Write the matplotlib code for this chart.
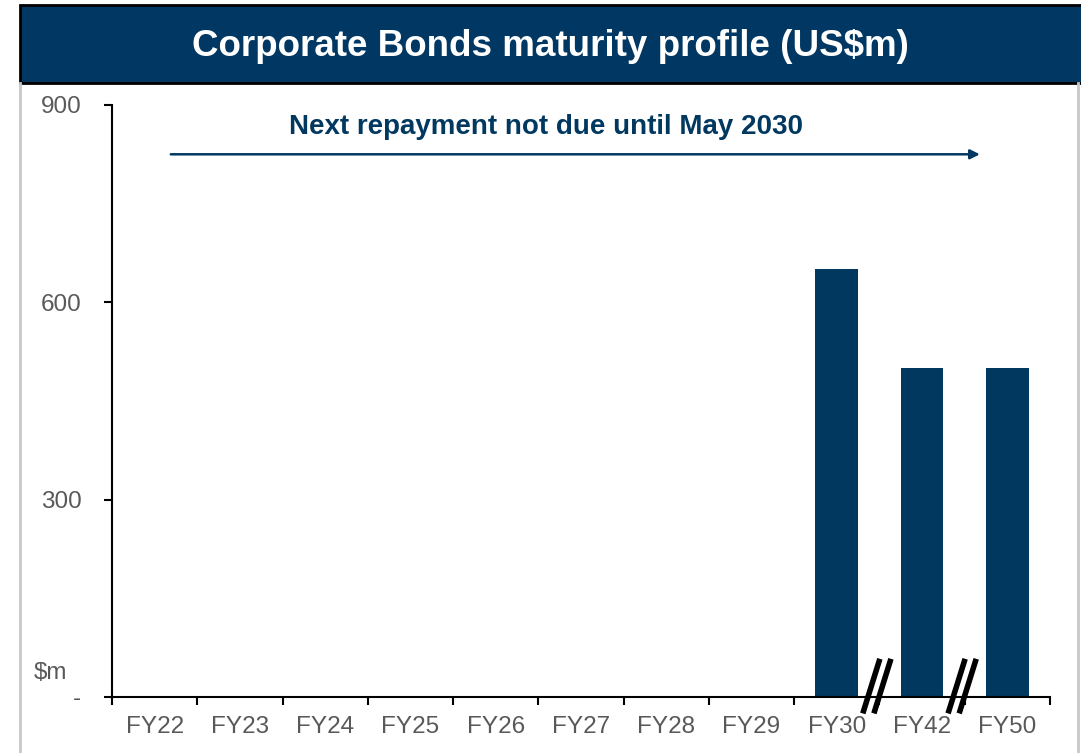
import matplotlib.pyplot as plt
from matplotlib.patches import Rectangle
from matplotlib.lines import Line2D

categories = ['FY22', 'FY23', 'FY24', 'FY25', 'FY26', 'FY27', 'FY28', 'FY29', 'FY30', 'FY42', 'FY50']
values = [0, 0, 0, 0, 0, 0, 0, 0, 650, 500, 500]
yticks = [0, 300, 600, 900]
ytick_labels = ['-', '300', '600', '900']
breaks_after = ['FY30', 'FY42']

navy = '#00385F'
grey = '#595959'
plt.rcParams['font.family'] = ['Liberation Sans', 'DejaVu Sans']

fig = plt.figure(figsize=(10.81, 7.53), dpi=100)
ax = fig.add_axes([0.1036, 0.0744, 0.8677, 0.7862])

x = list(range(len(categories)))
ax.bar(x, values, width=0.5, color=navy, zorder=2)
ax.set_xlim(-0.5, len(categories) - 0.5)
ax.set_ylim(0, 900)

ax.set_yticks(yticks)
ax.set_yticklabels(ytick_labels)
ax.set_xticks(x)
ax.set_xticklabels(categories)
ax.set_xticks([i - 0.5 for i in range(len(categories) + 1)], minor=True)
ax.tick_params(axis='x', which='major', length=0, pad=14, labelsize=17.5, labelcolor=grey)
ax.tick_params(axis='x', which='minor', length=6, width=1.5, direction='out')
ax.tick_params(axis='y', length=6, width=1.5, direction='out', pad=16, labelsize=17.5, labelcolor=grey)
for s in ['top', 'right']:
    ax.spines[s].set_visible(False)
for s in ['left', 'bottom']:
    ax.spines[s].set_linewidth(1.5)

# axis break marks
for name in breaks_after:
    b = categories.index(name) + 0.47
    for dx in (-0.065, 0.065):
        ax.plot([b + dx - 0.1, b + dx + 0.1], [-25, 58], color='black', lw=4,
                clip_on=False, zorder=5, solid_capstyle='butt')

# $m unit label
ax.text(-1.02, 36, '$m', ha='right', va='center', fontsize=17.5, color=grey)

# arrow and note
ax.annotate('', xy=(9.71, 825), xytext=(0.157, 825),
            arrowprops=dict(arrowstyle='-|>', color=navy, lw=1.8, mutation_scale=14))
ax.text(4.59, 866, 'Next repayment not due until May 2030', ha='center', va='center',
        fontsize=20, fontweight='bold', color=navy)

# title banner
fig.patches.append(Rectangle((20 / 1081, 670 / 753), 1.0, 78 / 753, transform=fig.transFigure,
                             facecolor='#003763', edgecolor='black', lw=2, zorder=0))
fig.text(550 / 1081, 706 / 753, 'Corporate Bonds maturity profile (US$m)', ha='center', va='center',
         fontsize=26.5, fontweight='bold', color='white')

# frame side lines
fig.lines.append(Line2D([20 / 1081, 20 / 1081], [0, 670 / 753], transform=fig.transFigure, color='#C8C8C8', lw=2))
fig.lines.append(Line2D([1078 / 1081, 1078 / 1081], [0, 670 / 753], transform=fig.transFigure, color='#C8C8C8', lw=2))

fig.savefig('out.png', dpi=100)
